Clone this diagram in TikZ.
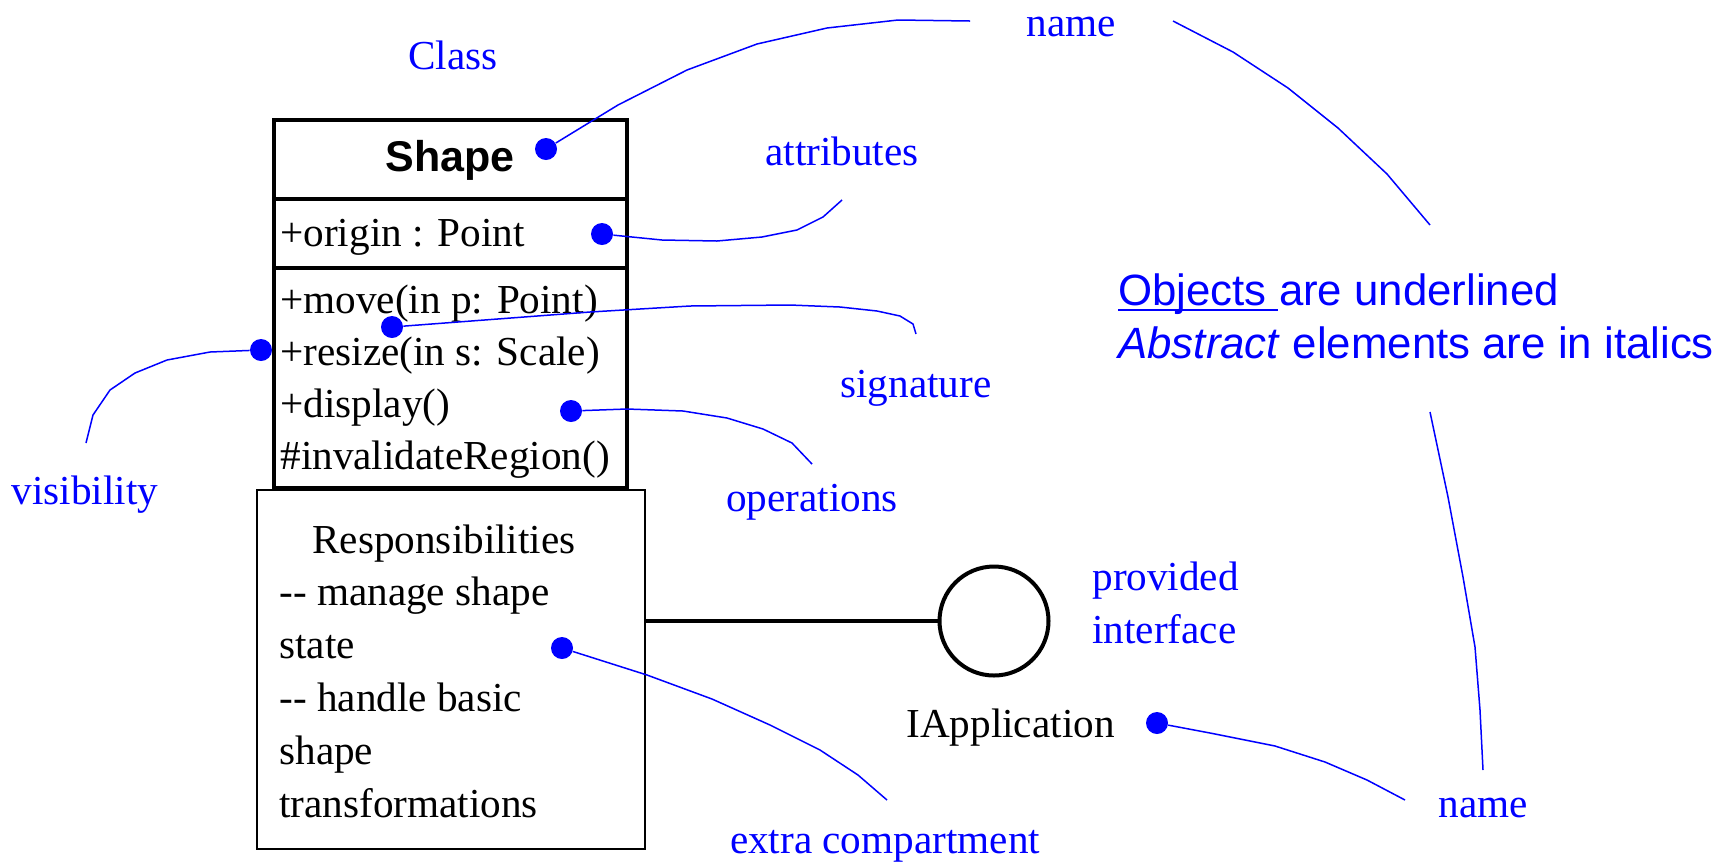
\documentclass[tikz,border=0pt]{standalone}
\usepackage{fontspec}
\setmainfont{Liberation Serif}
\setsansfont{Liberation Sans}
\usepackage{tikz}
\usetikzlibrary{calc}

\tikzset{
	compart/.style={draw, line width=2pt, minimum width=176.5pt, outer sep=0pt, inner sep=0pt},
	member/.style={font=\fontsize{20.6}{26}\selectfont, inner sep=0pt},
	note/.style={blue, font=\fontsize{20.6}{26}\selectfont, inner sep=0pt},
	rule/.style={blue, font=\sffamily\fontsize{21.9}{26}\selectfont, inner sep=0pt},
	dot/.style={circle, fill=blue, inner sep=0pt, minimum size=11pt},
	callout/.style={blue, line width=0.75pt}
}

\begin{document}
\begin{tikzpicture}[x=0.5pt, y=-0.5pt]
				\useasboundingbox (0,0) rectangle (1729,864);
				% the class box with its three compartments
				\node[compart, minimum height=39.5pt, anchor=north west] (nameBox) at (274,120) {};
				\node[compart, minimum height=34.5pt, anchor=north] (attrBox) at (nameBox.south) {};
				\node[compart, minimum height=110pt, anchor=north] (opsBox) at (attrBox.south) {};
				\node[font=\sffamily\bfseries\fontsize{21.5}{26}\selectfont, inner sep=0pt] (shapeName) at (450,160) {Shape};
				\node[member, anchor=base west] (attr) at (280,246) {+origin : Point};
				\foreach \op [count=\i] in {{+move(in p: Point)}, {+resize(in s: Scale)}, {+display()}, {\#invalidateRegion()}}
				\node[member, anchor=base west] (op\i) at (280, {313+52.3*(\i-1)}) {\op};
				% extra compartment
				\node[draw, line width=1pt, minimum width=194pt, minimum height=179.5pt, outer sep=0pt, anchor=north west] (respBox) at (257,490) {};
				\node[member, anchor=base] (respTitle) at (444,553) {Responsibilities};
				\foreach \line [count=\i] in {{-{}- manage shape}, state, {-{}- handle basic}, shape, transformations}
				\node[member, anchor=base west] (resp\i) at (279, {553+52.8*\i}) {\line};
				% provided interface
				\node[circle, draw, line width=2pt, minimum size=54.5pt, inner sep=0pt] (iface) at (994,621) {};
				\draw[line width=2pt] (respBox.east |- iface.west) -- (iface.west);
				\node[member, anchor=base west] (ifaceName) at (906,737) {IApplication};
				% labels
				\node[note, anchor=base] (lClass) at (453,69) {Class};
				\node[note, anchor=base] (lNameTop) at (1071,36) {name};
				\node[note, anchor=base] (lAttr) at (842,165) {attributes};
				\node[note, anchor=base] (lSig) at (916,397) {signature};
				\node[note, anchor=base] (lOps) at (812,511) {operations};
				\node[note, anchor=base] (lVis) at (85,504) {visibility};
				\node[note, anchor=base] (lExtra) at (885,853) {extra compartment};
				\node[note, anchor=base] (lNameBot) at (1483,817) {name};
				\node[note, anchor=base west] (lProv) at (1092,590) {provided};
				\node[note, anchor=base west] (lIntf) at (1092,643) {interface};
				\node[rule, anchor=base west] (ruleObj) at (1118,305) {Objects are underlined};
				\node[rule, anchor=base west] (ruleAbs) at (1118,358) {\textit{Abstract} elements are in italics};
				\draw[blue, line width=1pt] ([yshift=-2.5pt]ruleObj.base west) -- ++(80pt,0);
				% dots
				\node[dot] (dName) at (546,149) {};
				\node[dot] (dAttr) at (602,234) {};
				\node[dot] (dSig) at (392,327) {};
				\node[dot] (dVis) at (261,350) {};
				\node[dot] (dOps) at (571,411) {};
				\node[dot] (dResp) at (562,648) {};
				\node[dot] (dIface) at (1157,723) {};
				% free ends of the callouts
				\coordinate (eName) at (970,21);
				\coordinate (eAttr) at (842,200);
				\coordinate (eSig) at (916,334);
				\coordinate (eVis) at (86,443);
				\coordinate (eOps) at (812,464);
				\coordinate (eResp) at (887,800);
				\coordinate (eIface) at (1405,800);
				\coordinate (arcTop) at (1173,21);
				\coordinate (arcMid) at (1430,225);
				\coordinate (arcLow) at (1430,412);
				\coordinate (arcEnd) at (1483,770);
				% callouts
				\draw[callout] (dName) -- (618,105) -- (687,70) -- (757,44) -- (827,28) -- (898,20) -- (eName);
				\draw[callout] (dAttr) -- (662,240) -- (717,241) -- (762,237) -- (797,230) -- (823,217) -- (eAttr);
				\draw[callout] (dSig) -- (590,312) -- (690,306) -- (790,305) -- (840,307) -- (877,311) -- (900,316) -- (913,324) -- (eSig);
				\draw[callout] (dVis) -- (210,352) -- (167,360) -- (135,373) -- (110,390) -- (93,415) -- (eVis);
				\draw[callout] (dOps) -- (627,409) -- (683,411) -- (727,418) -- (763,429) -- (792,443) -- (eOps);
				\draw[callout] (dResp) -- (647,675) -- (712,699) -- (770,725) -- (820,750) -- (858,775) -- (eResp);
				\draw[callout] (dIface) -- (1210,733) -- (1275,746) -- (1325,762) -- (1367,780) -- (eIface);
				\draw[callout] (arcTop) -- (1233,52) -- (1288,88) -- (1338,128) -- (1387,174) -- (arcMid);
				\draw[callout] (arcLow) -- (1448,497) -- (1463,577) -- (1475,647) -- (1480,710) -- (arcEnd);
			\end{tikzpicture}
\end{document}
